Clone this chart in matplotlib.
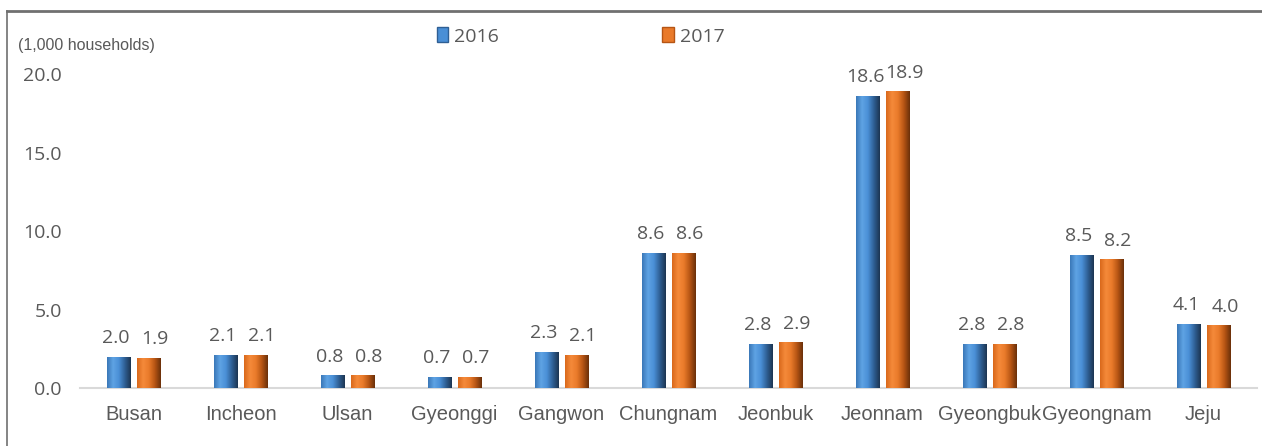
import numpy as np
import matplotlib
matplotlib.use("Agg")
from matplotlib import pyplot as plt
from matplotlib.lines import Line2D
from matplotlib.colors import LinearSegmentedColormap
from matplotlib.patches import Patch

regions = ["Busan", "Incheon", "Ulsan", "Gyeonggi", "Gangwon", "Chungnam",
           "Jeonbuk", "Jeonnam", "Gyeongbuk", "Gyeongnam", "Jeju"]
v2016 = [2.0, 2.1, 0.8, 0.7, 2.3, 8.6, 2.8, 18.6, 2.8, 8.5, 4.1]
v2017 = [1.9, 2.1, 0.8, 0.7, 2.1, 8.6, 2.9, 18.9, 2.8, 8.2, 4.0]
years = ["2016", "2017"]
yticks = [0, 5, 10, 15, 20]

GRAY = "#595959"
NUMF = ["Open Sans", "DejaVu Sans"]
LABF = ["Liberation Sans", "DejaVu Sans"]

blue_cm = LinearSegmentedColormap.from_list(
    "b", ["#3a78b8", "#5fa3e4", "#4a8fd6", "#2f5f94", "#1c3552"])
orange_cm = LinearSegmentedColormap.from_list(
    "o", ["#d9691c", "#f58a3a", "#e97a2a", "#b65514", "#6b300a"])

fig = plt.figure(figsize=(12.62, 4.46), dpi=100)
ax = fig.add_axes([0.0634, 0.130, 0.9326, 0.704])

x = np.arange(len(regions))
w = 0.215
off = 0.137
grad = np.linspace(0, 1, 64).reshape(1, -1)

for vals, cm, sign, base, dx in [(v2016, blue_cm, -1, "#4a8fd6", -2),
                                 (v2017, orange_cm, 1, "#e97a2a", 5)]:
    bars = ax.bar(x + sign * off, vals, width=w, color=base, zorder=2)
    for b, v in zip(bars, vals):
        bx, by = b.get_x(), b.get_y()
        bw, bh = b.get_width(), b.get_height()
        im = ax.imshow(grad, cmap=cm, aspect="auto", zorder=3,
                       extent=[bx, bx + bw, by, by + bh])
        im.set_clip_path(b)
        ax.annotate(f"{v:.1f}", (bx + bw / 2, by + bh), xytext=(dx, 7),
                    textcoords="offset points", ha="center", va="bottom",
                    fontsize=14, color=GRAY, family=NUMF)

ax.set_xlim(-0.5, len(regions) - 0.5)
ax.set_ylim(0, 20)
ax.set_yticks(yticks)
ax.set_yticklabels([f"{t:.1f}" for t in yticks], family=NUMF)
ax.set_xticks(x)
ax.set_xticklabels(regions, family=LABF)
ax.tick_params(axis="y", length=0, labelsize=14, labelcolor=GRAY, pad=13)
ax.tick_params(axis="x", length=0, labelsize=14.5, labelcolor=GRAY, pad=12)
for s in ["top", "right", "left"]:
    ax.spines[s].set_visible(False)
ax.spines["bottom"].set_color("#d9d9d9")
ax.spines["bottom"].set_linewidth(1.5)

handles = [Patch(facecolor="#4a8fd6", edgecolor="#2f5f94"),
           Patch(facecolor="#e97a2a", edgecolor="#b65514")]
fig.legend(handles, years, loc="center", bbox_to_anchor=(0.46, 0.918),
           ncol=2, frameon=False, prop={"family": NUMF, "size": 14},
           labelcolor=GRAY, handlelength=0.6, handleheight=0.8,
           handletextpad=0.3, columnspacing=8.4)

fig.text(0.014, 0.897, "(1,000 households)", fontsize=11.5, color=GRAY,
         family=LABF, va="center")

fig.add_artist(Line2D([0.0055, 1.0], [0.976, 0.976], color="#707070", lw=2))
fig.add_artist(Line2D([0.0055, 0.0055], [0.0, 0.976], color="#707070", lw=1.2))

fig.savefig("out.png", dpi=100)
